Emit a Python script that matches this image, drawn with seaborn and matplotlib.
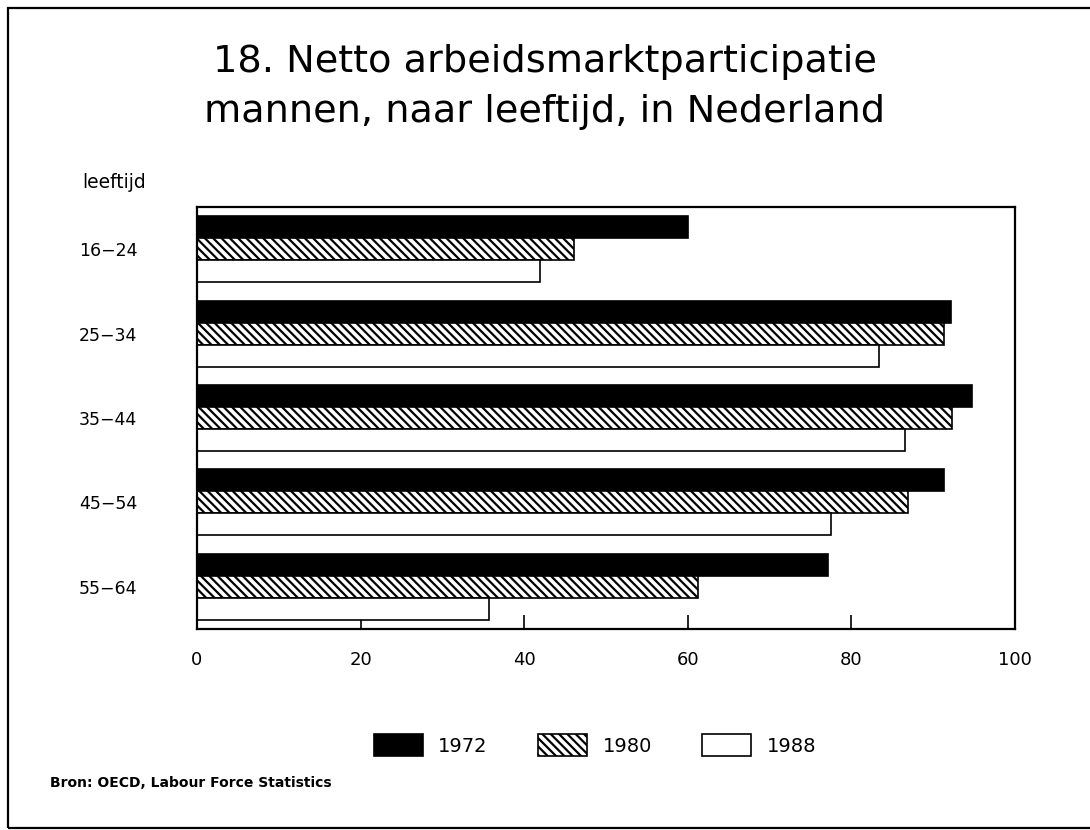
"""Netto arbeidsmarktparticipatie mannen, naar leeftijd, in Nederland."""
import matplotlib

matplotlib.use("Agg")
import matplotlib.pyplot as plt
import pandas as pd
import seaborn as sns
from matplotlib.patches import Rectangle

# Data
age_groups = ["16\u221224", "25\u221234", "35\u221244", "45\u221254", "55\u221264"]
years = ["1972", "1980", "1988"]
values_1972 = [60.0, 92.2, 94.7, 91.3, 77.1]
values_1980 = [46.1, 91.3, 92.3, 86.9, 61.2]
values_1988 = [41.9, 83.4, 86.6, 77.5, 35.7]

data = pd.DataFrame(
    {
        "leeftijd": age_groups * 3,
        "jaar": [y for y in years for _ in age_groups],
        "participatie": values_1972 + values_1980 + values_1988,
    }
)

sns.set_style("white")
plt.rcParams["font.family"] = ["DejaVu Sans"]
plt.rcParams["text.color"] = "black"
plt.rcParams["xtick.color"] = "black"
plt.rcParams["ytick.color"] = "black"
plt.rcParams["hatch.linewidth"] = 1.6

fig = plt.figure(figsize=(10.9, 8.3), dpi=100)
ax = fig.add_axes([0.1807, 0.2422, 0.7504, 0.5084])

sns.barplot(
    data=data,
    x="participatie",
    y="leeftijd",
    hue="jaar",
    order=age_groups,
    hue_order=years,
    palette=["black", "white", "white"],
    edgecolor="black",
    linewidth=1.2,
    width=0.78,
    orient="h",
    legend=False,
    ax=ax,
)

# Hatch for 1980, plain white for 1988
for patch in ax.containers[1].patches:
    patch.set_hatch("\\\\\\\\")

ax.set_xlim(0, 100)
ax.set_ylim(4.5, -0.5)
ax.set_xticks([0, 20, 40, 60, 80, 100])
ax.set_xlabel("")
ax.set_ylabel("")
ax.tick_params(axis="x", direction="in", length=10, width=1.2, pad=16,
               labelsize=13, bottom=True)
ax.tick_params(axis="y", direction="in", length=8, width=1.2, pad=43,
               labelsize=12.5, left=True)
for label in ax.get_yticklabels():
    label.set_horizontalalignment("right")
for spine in ax.spines.values():
    spine.set_linewidth(1.6)
    spine.set_color("black")

fig.text(0.5, 0.925, "18. Netto arbeidsmarktparticipatie",
         ha="center", va="center", fontsize=27.5)
fig.text(0.5, 0.865, "mannen, naar leeftijd, in Nederland",
         ha="center", va="center", fontsize=27.5)
fig.text(0.075, 0.78, "leeftijd", ha="left", va="center", fontsize=13.5)
fig.text(0.046, 0.057, "Bron: OECD, Labour Force Statistics",
         ha="left", va="center", fontsize=10, fontweight="bold")

handles = [c.patches[0] for c in ax.containers]
fig.legend(
    handles,
    years,
    loc="center",
    bbox_to_anchor=(0.546, 0.102),
    ncol=3,
    frameon=False,
    fontsize=14,
    handlelength=2.5,
    handleheight=1.35,
    handletextpad=0.8,
    columnspacing=2.6,
)

# Outer frame around the whole page
fig.patches.append(
    Rectangle((0.007, 0.003), 0.995, 0.987, transform=fig.transFigure,
              fill=False, edgecolor="black", linewidth=1.6)
)

fig.savefig("out.png", dpi=100)
